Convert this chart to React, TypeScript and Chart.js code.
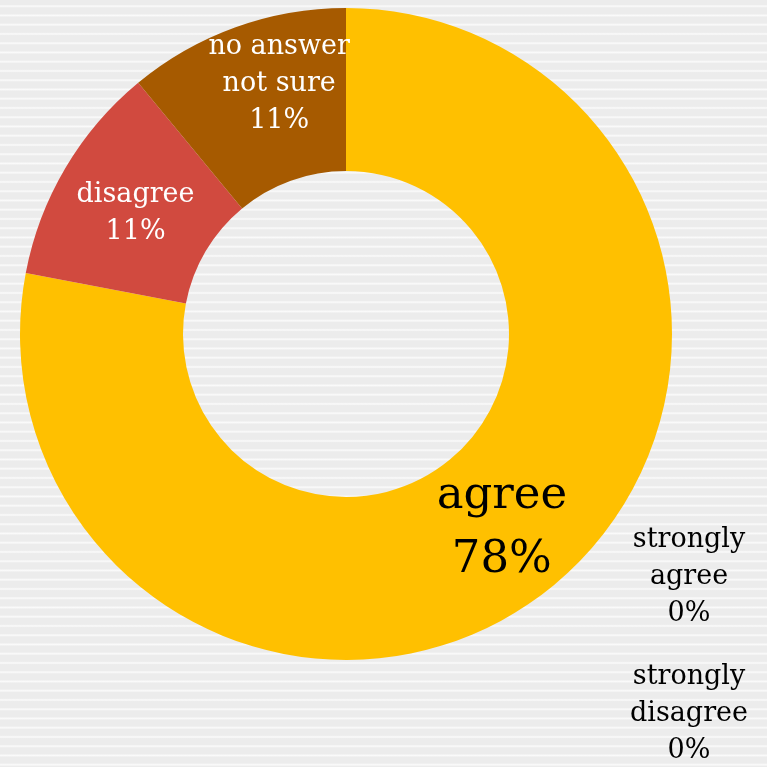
import React, { useEffect, useRef } from "react";
import { Chart, registerables } from "chart.js";

Chart.register(...registerables);

const categories = ["strongly agree", "agree", "disagree", "strongly disagree", "no answer not sure"];
const values = [0, 78, 11, 0, 11];
const percentLabels = ["0%", "78%", "11%", "0%", "11%"];
const labelLines = [
  ["strongly", "agree"],
  ["agree"],
  ["disagree"],
  ["strongly", "disagree"],
  ["no answer", "not sure"],
];
const colors = ["#4472C4", "#FFC000", "#D14A3F", "#7F7F7F", "#A65A00"];

const SERIF = "'DejaVu Serif', 'Liberation Serif', serif";

const labelPlugin = {
  id: "sliceLabels",
  afterDatasetsDraw(chart: any) {
    const ctx = chart.ctx;
    const meta = chart.getDatasetMeta(0);
    const area = chart.chartArea;
    ctx.save();
    ctx.textAlign = "center";
    ctx.textBaseline = "middle";
    meta.data.forEach((arc: any, i: number) => {
      const lines = [...labelLines[i], percentLabels[i]];
      let x: number, y: number, size: number, lh: number, color: string;
      if (values[i] === 0) {
        // zero slices: placed outside, at the lower right
        size = 27;
        lh = 37;
        color = "#000";
        x = area.right + 17;
        y = i === 0 ? area.bottom - 83 : area.bottom + 54;
      } else {
        const p = arc.tooltipPosition();
        x = p.x;
        y = p.y;
        if (i === 1) {
          size = 45;
          lh = 64;
          color = "#000";
          y += 6;
        } else {
          size = 27;
          lh = 37;
          color = "#fff";
          y += 4;
        }
        if (i === 4) {
          x += 16;
          y -= 24;
        }
      }
      ctx.font = `${size}px ${SERIF}`;
      ctx.fillStyle = color;
      const n = lines.length;
      lines.forEach((t, k) => {
        ctx.fillText(t, x, y + (k - (n - 1) / 2) * lh);
      });
    });
    ctx.restore();
  },
};

export default function App() {
  const ref = useRef<HTMLCanvasElement | null>(null);
  useEffect(() => {
    if (!ref.current) return;
    const chart = new Chart(ref.current, {
      type: "doughnut",
      data: {
        labels: categories,
        datasets: [
          {
            data: values,
            backgroundColor: colors,
            borderWidth: 0,
          },
        ],
      },
      options: {
        animation: false,
        responsive: false,
        cutout: "50%",
        layout: { padding: { left: 20, right: 95, top: 8, bottom: 107 } },
        plugins: {
          legend: { display: false },
          tooltip: { enabled: false },
        },
      },
      plugins: [labelPlugin],
    });
    return () => chart.destroy();
  }, []);
  return (
    <div
      style={{
        position: "fixed",
        left: 0,
        top: 0,
        width: 767,
        height: 767,
        background:
          "repeating-linear-gradient(to bottom, #ececec 0px, #ececec 4.6px, #f4f4f4 5.4px, #fafafa 6.2px, #f4f4f4 7px, #ececec 7.8px, #ececec 9.25px)",
      }}
    >
      <canvas ref={ref} width={767} height={767} style={{ display: "block" }} />
    </div>
  );
}
